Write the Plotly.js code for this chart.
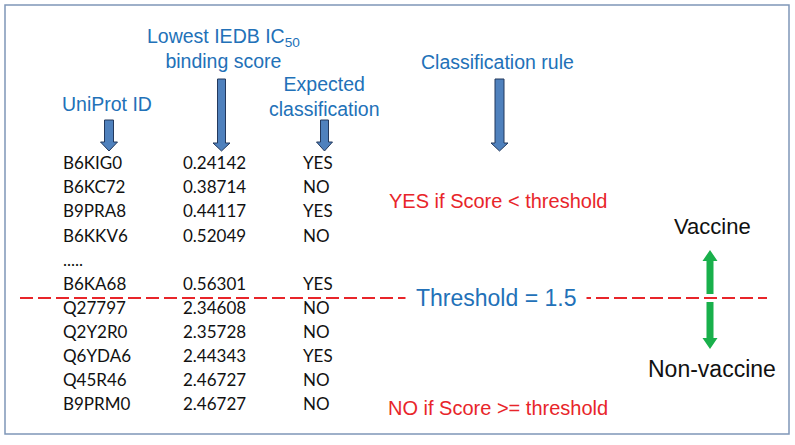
<!DOCTYPE html>
<html>
<head>
<meta charset="utf-8">
<script src="https://cdn.plot.ly/plotly-3.0.1.min.js"></script>
<style>html,body{margin:0;padding:0;background:#fff;}#chart{width:795px;height:445px;}</style>
</head>
<body>
<div id="chart"></div>
<script>
// ---- data ----
const uniprotIds = ["B6KIG0","B6KC72","B9PRA8","B6KKV6",".....","B6KA68","Q27797","Q2Y2R0","Q6YDA6","Q45R46","B9PRM0"];
const scores = ["0.24142","0.38714","0.44117","0.52049","","0.56301","2.34608","2.35728","2.44343","2.46727","2.46727"];
const expectedClass = ["YES","NO","YES","NO","","YES","NO","NO","YES","NO","NO"];
const threshold = 1.5;
const headers = {
  id: "UniProt ID",
  score: "Lowest IEDB IC<sub>50</sub><br>binding score",
  cls: "Expected<br>classification",
  rule: "Classification rule"
};
const ruleYes = "YES if Score < threshold";
const ruleNo = "NO if Score >= threshold";
const labelUp = "Vaccine";
const labelDown = "Non-vaccine";

// ---- layout helpers (pixel coordinate space) ----
const rowTop = 165, rowStep = 24.1;
const rowY = uniprotIds.map((_, i) => rowTop + i * rowStep);
const tableFont = {family: "Lato, 'Open Sans', sans-serif", size: 17, color: "#111"};
const blue = "#2271b8", red = "#e8252a", green = "#19b04b";
const sansFont = "'Liberation Sans', Arial, sans-serif";

function col(x, texts) {
  const keep = texts.map((t, i) => i).filter(i => texts[i] !== "");
  return {
    type: "scatter", mode: "text",
    x: keep.map(() => x), y: keep.map(i => rowY[i]),
    text: keep.map(i => texts[i]), textposition: "middle right", textfont: tableFont,
    hoverinfo: "skip", showlegend: false
  };
}

function downArrow(cx, yTop, yHead, yTip, sw, hw) {
  return `M${cx-sw/2},${yTop} L${cx+sw/2},${yTop} L${cx+sw/2},${yHead} L${cx+hw/2},${yHead} L${cx},${yTip} L${cx-hw/2},${yHead} L${cx-sw/2},${yHead} Z`;
}
function upArrow(cx, yTip, yHead, yBottom, sw, hw) {
  return `M${cx-sw/2},${yBottom} L${cx+sw/2},${yBottom} L${cx+sw/2},${yHead} L${cx+hw/2},${yHead} L${cx},${yTip} L${cx-hw/2},${yHead} L${cx-sw/2},${yHead} Z`;
}
const blueArrow = p => ({type: "path", xref: "x", yref: "y", path: p, fillcolor: "#4f81bd", line: {color: "#23395d", width: 1}});
const greenArrow = p => ({type: "path", xref: "x", yref: "y", path: p, fillcolor: green, line: {color: green, width: 0}});

const traces = [col(63, uniprotIds), col(183, scores), col(303, expectedClass)];

const shapes = [
  {type: "rect", xref: "x", yref: "y", x0: 5, y0: 5, x1: 789, y1: 434, line: {color: "#7f97b8", width: 1.5}},
  blueArrow(downArrow(109, 120, 142, 151, 9, 17)),
  blueArrow(downArrow(221.5, 79, 143, 151, 8, 17)),
  blueArrow(downArrow(324.5, 120, 142, 151, 8, 16)),
  blueArrow(downArrow(499.5, 79, 143, 151, 9, 17)),
  {type: "line", xref: "x", yref: "y", x0: 20, x1: 767, y0: 298, y1: 298, line: {color: red, width: 2, dash: "13px,5px"}},
  greenArrow(upArrow(710, 250, 261, 294, 7, 15)),
  greenArrow(downArrow(710, 302, 338, 349, 7, 15))
];

const ann = (x, y, text, size, color, extra) => Object.assign({
  xref: "x", yref: "y", x: x, y: y, text: text, showarrow: false,
  xanchor: "center", yanchor: "middle",
  font: {family: sansFont, size: size, color: color}
}, extra || {});

const annotations = [
  ann(107, 104, headers.id, 19.5, blue),
  ann(223, 48, headers.score, 19.5, blue),
  ann(324, 96, headers.cls, 19.5, blue),
  ann(497, 62, headers.rule, 19.5, blue),
  ann(498, 201, ruleYes, 20, red),
  ann(498, 408, ruleNo, 20, red),
  ann(496, 298, "Threshold = " + threshold, 23, blue, {bgcolor: "#fff", borderpad: 10}),
  ann(712, 226, labelUp, 22, "#111"),
  ann(712, 369, labelDown, 23, "#111")
];

const layout = {
  width: 795, height: 445,
  margin: {l: 0, r: 0, t: 0, b: 0},
  paper_bgcolor: "#fff", plot_bgcolor: "#fff",
  xaxis: {range: [0, 795], visible: false, fixedrange: true},
  yaxis: {range: [445, 0], visible: false, fixedrange: true},
  shapes: shapes, annotations: annotations, showlegend: false
};

Plotly.newPlot("chart", traces, layout, {displayModeBar: false, staticPlot: true});
</script>
</body>
</html>
